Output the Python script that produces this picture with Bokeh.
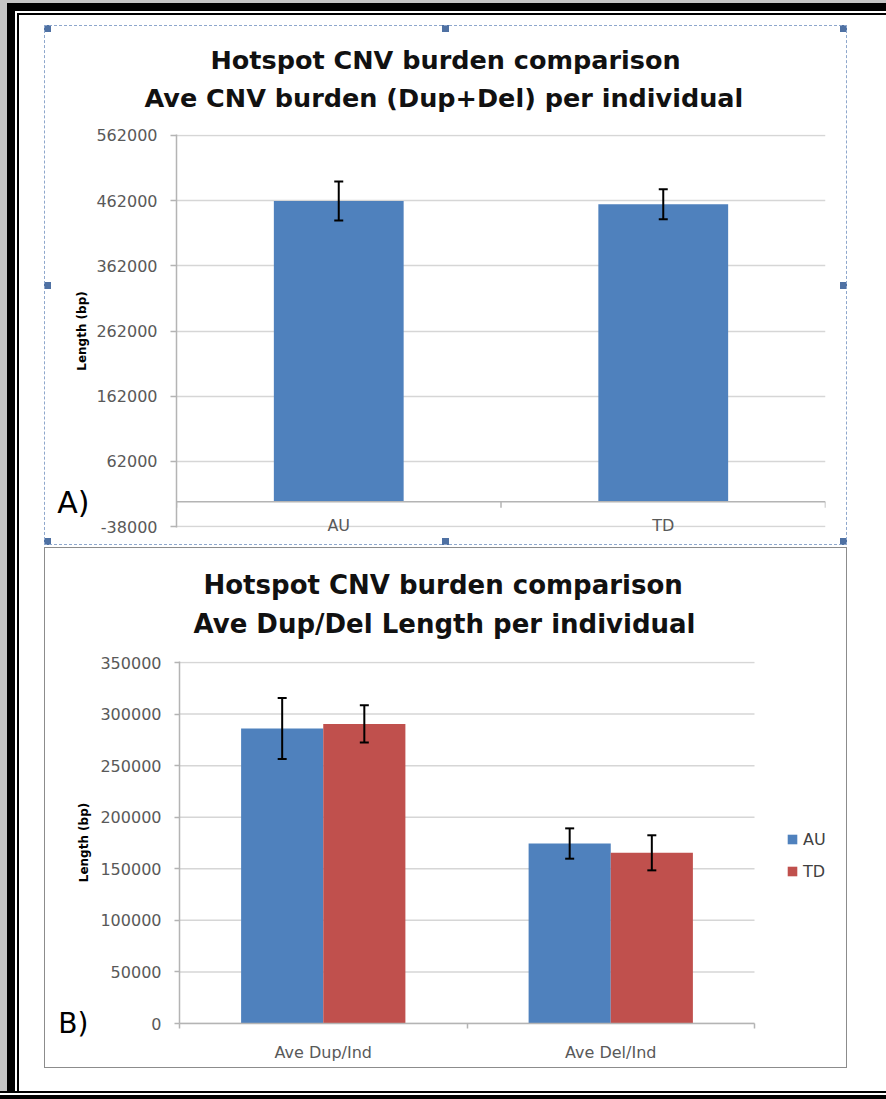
from bokeh.plotting import figure
from bokeh.models import (Range1d, FixedTicker, BasicTickFormatter, Whisker, TeeHead,
                          ColumnDataSource, Span, Legend, LegendItem, Title, LinearAxis)
from bokeh.layouts import column
from bokeh.embed import file_html
from bokeh.resources import INLINE

# ---- Panel A: total hotspot CNV burden (Dup+Del) per individual ----
burden_groups = ["AU", "TD"]
burden_mean = [461500, 456500]
burden_sem = [30000, 23000]
burden_ticks = [-38000, 62000, 162000, 262000, 362000, 462000, 562000]

# ---- Panel B: duplication / deletion length per individual ----
length_groups = ["Ave Dup/Ind", "Ave Del/Ind"]
au_length = [286000, 174500]
au_sem = [29500, 14700]
td_length = [290500, 165500]
td_sem = [18000, 17000]
length_ticks = [0, 50000, 100000, 150000, 200000, 250000, 300000, 350000]

FONT = "DejaVu Sans"
BLUE = "#4F81BD"
RED = "#C0504D"
GRID = "#d6d6d6"
AXIS = "#b4b4b4"
TICK_TEXT = "#595959"
HANDLE = "#4f71a3"


def style_value_axis(ax, ticks, label, tick_out, standoff, label_standoff):
    ax.ticker = FixedTicker(ticks=ticks)
    ax.formatter = BasicTickFormatter(use_scientific=False)
    ax.major_label_overrides = {t: str(t) for t in ticks if t < 0}
    ax.axis_line_color = AXIS
    ax.axis_line_width = 1.5
    ax.major_tick_line_color = AXIS
    ax.major_tick_line_width = 1.5
    ax.major_tick_out = tick_out
    ax.major_tick_in = 0
    ax.minor_tick_line_color = None
    ax.major_label_text_font = FONT
    ax.major_label_text_font_size = "16px"
    ax.major_label_text_color = TICK_TEXT
    ax.major_label_standoff = standoff
    ax.axis_label = label
    ax.axis_label_text_font = FONT
    ax.axis_label_text_font_size = "12px"
    ax.axis_label_text_font_style = "bold"
    ax.axis_label_text_color = "black"
    ax.axis_label_standoff = label_standoff


def add_heading(p, lines, offsets, size, gap, line_gap):
    # spacer keeps the two heading lines clear of the plot frame
    p.add_layout(Title(text=" ", text_font_size="1px", standoff=gap), "above")
    second, first = lines[1], lines[0]
    for text, off, standoff in ((second, offsets[1], 0), (first, offsets[0], line_gap)):
        p.add_layout(Title(text=text, align="left", offset=off, standoff=standoff,
                           text_font=FONT, text_font_size=size,
                           text_font_style="bold", text_color="#111111"), "above")


def panel_tag(p, text, value, baseline, standoff, size):
    tag = LinearAxis(ticker=FixedTicker(ticks=[value]),
                     major_label_overrides={value: text})
    tag.axis_line_color = None
    tag.major_tick_line_color = None
    tag.minor_tick_line_color = None
    tag.major_tick_out = 0
    tag.major_tick_in = 0
    tag.major_label_standoff = standoff
    tag.major_label_text_font = FONT
    tag.major_label_text_font_size = size
    tag.major_label_text_color = "black"
    tag.major_label_text_baseline = baseline
    p.add_layout(tag, "left")


def error_bars(src):
    head = dict(size=9, line_color="black", line_width=2)
    return Whisker(source=src, base="x", upper="upper", lower="lower",
                   line_color="black", line_width=2, level="annotation",
                   upper_head=TeeHead(**head), lower_head=TeeHead(**head))


def base_figure(width, height, x_end, y_start, y_end, borders):
    left, right, top, bottom = borders
    p = figure(width=width, height=height, x_range=Range1d(0, x_end),
               y_range=Range1d(y_start, y_end), output_backend="svg",
               toolbar_location=None, min_border_left=left, min_border_right=right,
               min_border_top=top, min_border_bottom=bottom)
    p.outline_line_color = None
    p.border_fill_color = None
    p.background_fill_color = "white"
    p.xgrid.grid_line_color = None
    p.ygrid.grid_line_color = GRID
    p.ygrid.grid_line_width = 1.5
    return p


# ================= Panel A =================
xa = [i + 0.5 for i in range(len(burden_groups))]
src_a = ColumnDataSource(dict(
    x=xa, top=burden_mean,
    upper=[m + e for m, e in zip(burden_mean, burden_sem)],
    lower=[m - e for m, e in zip(burden_mean, burden_sem)]))

a_y0, a_y1 = -39500, 563500
a_borders = (132, 22, 109, 18)
pA = base_figure(803, 520, len(burden_groups), a_y0, a_y1, a_borders)
pA.vbar(x="x", top="top", bottom=0, width=0.4, source=src_a,
        fill_color=BLUE, line_color=None)
pA.add_layout(error_bars(src_a))

# category axis crosses the value axis at zero
pA.add_layout(Span(location=0, dimension="width", line_color=AXIS, line_width=1.5))
frame_h_a = 520 - a_borders[2] - a_borders[3]
per_px_a = (a_y1 - a_y0) / frame_h_a
bounds_a = list(range(len(burden_groups) + 1))
pA.segment(x0=bounds_a, y0=[0] * len(bounds_a), x1=bounds_a,
           y1=[-6 * per_px_a] * len(bounds_a), line_color=AXIS, line_width=1.5)

style_value_axis(pA.yaxis[0], burden_ticks, "Length (bp)", 6, 13, 4)
xax = pA.xaxis[0]
xax.ticker = FixedTicker(ticks=xa)
xax.major_label_overrides = {x: g for x, g in zip(xa, burden_groups)}
xax.axis_line_color = None
xax.major_tick_line_color = None
xax.minor_tick_line_color = None
xax.major_tick_out = 0
xax.major_tick_in = 0
xax.major_label_standoff = -12
xax.major_label_text_font = FONT
xax.major_label_text_font_size = "16px"
xax.major_label_text_color = TICK_TEXT

add_heading(pA, ["Hotspot CNV burden comparison",
                 "Ave CNV burden (Dup+Del) per individual"], [34, -32], "25.5px", 19, 11)
panel_tag(pA, "A)", a_y0 + 25 * per_px_a, "middle", -17, "30px")

handle_pos = ["left top", "center top", "right top", "left center", "right center",
              "left bottom", "center bottom", "right bottom"]
handles = ", ".join(f"linear-gradient({HANDLE},{HANDLE}) {pos} / 7px 7px no-repeat"
                    for pos in handle_pos)
pA.styles = {"background": handles + ", #ffffff",
             "outline": "1px dashed #8ea7cc", "outline-offset": "-1px"}
pA.margin = (25, 0, 0, 44)

# ================= Panel B =================
n_b = len(length_groups)
gap_width = 1.5
bar_w = 1 / (2 + gap_width)
xb = [i + 0.5 for i in range(n_b)]
src_au = ColumnDataSource(dict(
    x=[c - bar_w / 2 for c in xb], top=au_length,
    upper=[m + e for m, e in zip(au_length, au_sem)],
    lower=[m - e for m, e in zip(au_length, au_sem)]))
src_td = ColumnDataSource(dict(
    x=[c + bar_w / 2 for c in xb], top=td_length,
    upper=[m + e for m, e in zip(td_length, td_sem)],
    lower=[m - e for m, e in zip(td_length, td_sem)]))

# the frame runs on into the legend strip; categories fill the first 575 px of it
b_borders = (135, 2, 114, 45)
b_plot_w = 803 - b_borders[0] - b_borders[1]
b_cat_w = 575
pB = base_figure(803, 521, n_b * b_plot_w / b_cat_w, 0, 351000, b_borders)
pB.ygrid.grid_line_color = None
pB.segment(x0=[0] * len(length_ticks), y0=length_ticks,
           x1=[n_b] * len(length_ticks), y1=length_ticks,
           line_color=GRID, line_width=1.5, level="underlay")
r_au = pB.vbar(x="x", top="top", bottom=0, width=bar_w, source=src_au,
               fill_color=BLUE, line_color=None)
r_td = pB.vbar(x="x", top="top", bottom=0, width=bar_w, source=src_td,
               fill_color=RED, line_color=None)
pB.add_layout(error_bars(src_au))
pB.add_layout(error_bars(src_td))

style_value_axis(pB.yaxis[0], length_ticks, "Length (bp)", 5, 13, 6)
xbx = pB.xaxis[0]
xbx.bounds = (0, n_b)
xbx.ticker = FixedTicker(ticks=xb, minor_ticks=list(range(n_b + 1)))
xbx.major_label_overrides = {x: g for x, g in zip(xb, length_groups)}
xbx.axis_line_color = AXIS
xbx.axis_line_width = 1.5
xbx.major_tick_line_color = None
xbx.major_tick_out = 0
xbx.major_tick_in = 0
xbx.minor_tick_line_color = AXIS
xbx.minor_tick_line_width = 1.5
xbx.minor_tick_out = 5
xbx.minor_tick_in = 0
xbx.major_label_standoff = 14
xbx.major_label_text_font = FONT
xbx.major_label_text_font_size = "16px"
xbx.major_label_text_color = TICK_TEXT

legend = Legend(items=[LegendItem(label="AU", renderers=[r_au]),
                       LegendItem(label="TD", renderers=[r_td])],
                location=(607, 142), orientation="vertical",
                glyph_width=12, glyph_height=12, label_height=20, spacing=12,
                padding=0, margin=0, border_line_color=None,
                background_fill_color=None, label_standoff=5,
                label_text_font=FONT, label_text_font_size="16px",
                label_text_color="#404040")
pB.add_layout(legend)

add_heading(pB, ["Hotspot CNV burden comparison",
                 "Ave Dup/Del Length per individual"], [24, 14], "26px", 20, 13)
panel_tag(pB, "B)", 0, "middle", -14, "28px")

pB.styles = {"background": "#ffffff", "outline": "1px solid #8c8c8c",
             "outline-offset": "-1px"}
pB.margin = (2, 0, 0, 44)

# ================= page frame =================
frame_shadow = ", ".join([
    "inset 0 -4px 0 0 #000", "inset 0 -6px 0 0 #fff", "inset 0 -8px 0 0 #000",
    "inset 7px 3px 0 0 #c4c4c4", "inset 15px 11px 0 0 #000",
    "inset 17px 13px 0 0 #fff", "inset 19px 15px 0 0 #000",
])
root = column(column(pA), column(pB), width=886, height=1099, spacing=0,
              styles={"background-color": "#ffffff", "box-shadow": frame_shadow})

open("out.html", "w").write(file_html(root, INLINE))
